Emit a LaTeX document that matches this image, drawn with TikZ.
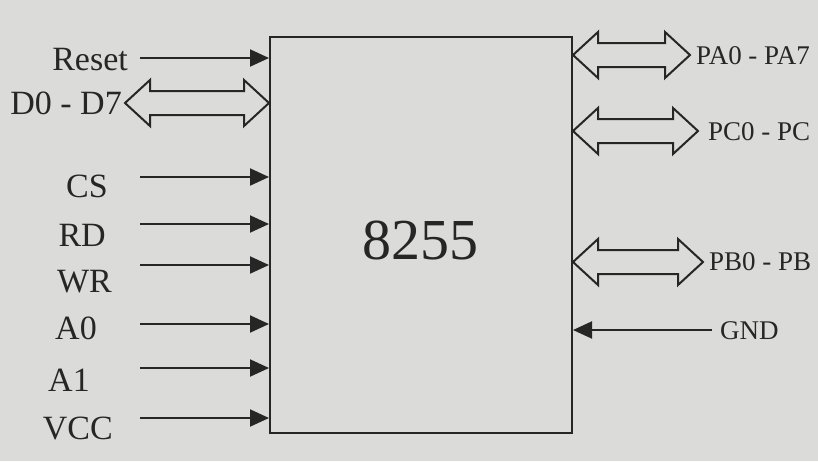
\documentclass[tikz,border=0pt]{standalone}
\usepackage{fontspec}
\setmainfont{Liberation Serif}
\usetikzlibrary{arrows.meta,calc}
\definecolor{paper}{RGB}{219,220,217}
\definecolor{ink}{RGB}{38,38,38}
\newcommand\busarrow[2]{%
  \draw[bus] let \p1=(#1), \p2=(#2) in
    (\x1,\y1) -- (\x1+25pt,\y1+23pt) -- (\x1+25pt,\y1+12pt) --
    (\x2-25pt,\y2+12pt) -- (\x2-25pt,\y2+23pt) -- (\x2,\y2) --
    (\x2-25pt,\y2-23pt) -- (\x2-25pt,\y2-12pt) --
    (\x1+25pt,\y1-12pt) -- (\x1+25pt,\y1-23pt) -- cycle;}
\begin{document}
\begin{tikzpicture}[x=1pt,y=-1pt,
  lbl/.style={text=ink, inner sep=0pt, font=\fontsize{34}{36}\selectfont},
  rlbl/.style={text=ink, inner sep=0pt, font=\fontsize{27}{30}\selectfont, anchor=west},
  sig/.style={draw=ink, line width=2pt, -{Triangle[length=19pt,width=17pt]}},
  bus/.style={draw=ink, line width=2pt, fill=paper, line join=miter},
  chipbox/.style={draw=ink, line width=2pt, inner sep=0pt, anchor=north west}]
\fill[paper] (0,0) rectangle (818,461);
\useasboundingbox (0,0) rectangle (818,461);

\node[chipbox, minimum width=302pt, minimum height=396pt] (chip) at (269,36) {};
\node[text=ink, font=\fontsize{58}{60}\selectfont] (num) at (420,240) {8255};

% left labels
\node[lbl, anchor=east] (reset) at (128,60) {Reset};
\node[lbl, anchor=east] (dbus) at (122,103) {D0 - D7};
\node[lbl, anchor=east] (cs) at (108,186) {CS};
\node[lbl, anchor=east] (rd) at (106,235) {RD};
\node[lbl, anchor=east] (wr) at (112,282) {WR};
\node[lbl, anchor=east] (a0) at (97,328) {A0};
\node[lbl, anchor=east] (a1) at (90,380) {A1};
\node[lbl, anchor=east] (vcc) at (113,428) {VCC};

% right labels
\node[rlbl] (pa) at (696,56) {PA0 - PA7};
\node[rlbl] (pc) at (708,132) {PC0 - PC};
\node[rlbl] (pb) at (709,262) {PB0 - PB};
\node[rlbl] (gnd) at (720,331) {GND};

% start points of signal lines
\coordinate (sreset) at (140,58);
\coordinate (scs) at (140,177);
\coordinate (srd) at (140,224);
\coordinate (swr) at (140,265);
\coordinate (sa0) at (140,324);
\coordinate (sa1) at (140,368);
\coordinate (svcc) at (140,418);
\coordinate (sgnd) at (712,330);

\draw[sig] (sreset) -- (sreset -| chip.west);
\draw[sig] (scs) -- (scs -| chip.west);
\draw[sig] (srd) -- (srd -| chip.west);
\draw[sig] (swr) -- (swr -| chip.west);
\draw[sig] (sa0) -- (sa0 -| chip.west);
\draw[sig] (sa1) -- (sa1 -| chip.west);
\draw[sig] (svcc) -- (svcc -| chip.west);
\draw[sig] (sgnd) -- (sgnd -| chip.east);

% buses
\coordinate (dtip) at (125,103);
\coordinate (patip) at (690,55);
\coordinate (pctip) at (698,131);
\coordinate (pbtip) at (703,262);
\busarrow{dtip}{dtip -| chip.west}
\busarrow{patip -| chip.east}{patip}
\busarrow{pctip -| chip.east}{pctip}
\busarrow{pbtip -| chip.east}{pbtip}
\end{tikzpicture}
\end{document}
